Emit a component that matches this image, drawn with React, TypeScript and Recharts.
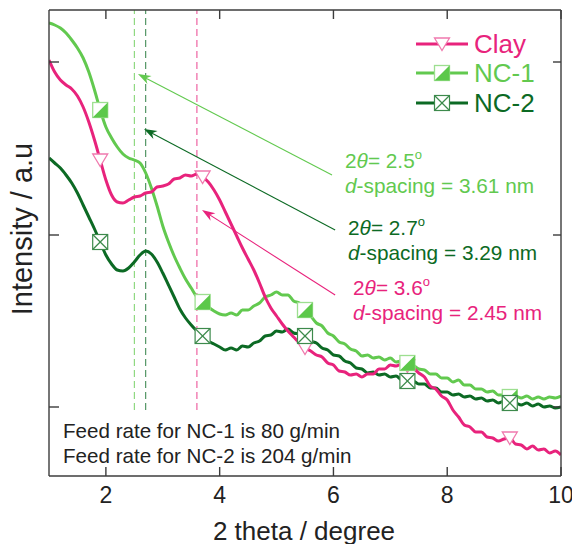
import React from 'react';
import { ComposedChart, Line, XAxis, YAxis, ReferenceLine } from 'recharts';

// 2θ grid (degree)
const twoTheta = [
  1.0, 1.1, 1.2, 1.3, 1.4, 1.5, 1.6, 1.7, 1.8, 1.9,
  2.0, 2.1, 2.2, 2.3, 2.4, 2.5, 2.6, 2.7, 2.8, 2.9,
  3.0, 3.1, 3.2, 3.3, 3.4, 3.5, 3.6, 3.7, 3.8, 3.9,
  4.0, 4.1, 4.2, 4.3, 4.4, 4.5, 4.6, 4.7, 4.8, 4.9,
  5.0, 5.1, 5.2, 5.3, 5.4, 5.5, 5.6, 5.7, 5.8, 5.9,
  6.0, 6.1, 6.2, 6.3, 6.4, 6.5, 6.6, 6.7, 6.8, 6.9,
  7.0, 7.1, 7.2, 7.3, 7.4, 7.5, 7.6, 7.7, 7.8, 7.9,
  8.0, 8.1, 8.2, 8.3, 8.4, 8.5, 8.6, 8.7, 8.8, 8.9,
  9.0, 9.1, 9.2, 9.3, 9.4, 9.5, 9.6, 9.7, 9.8, 9.9,
  10.0,
];

// Intensity (a.u.)
const clay = [
  416, 404, 396, 391, 387, 380, 369, 354, 336, 316,
  296, 281, 274, 273, 276, 279, 280, 283, 284, 289,
  290, 292, 297, 298, 301, 300, 302, 299, 294, 286,
  276, 264, 252, 240, 228, 217, 206, 193, 179, 168,
  160, 152, 145, 139, 133, 128, 125, 121, 119, 113,
  111, 105, 104, 101, 102, 99, 102, 102, 107, 107,
  111, 110, 112, 110, 108, 103, 99, 90, 87, 80,
  76, 66, 59, 51, 49, 44, 44, 39, 38, 35,
  37, 38, 32, 31, 27, 30, 26, 27, 23, 25,
  21,
];

const nc1 = [
  453, 451, 448, 443, 436, 428, 418, 404, 386, 366,
  349, 338, 329, 322, 318, 316, 313, 303, 288, 270,
  250, 234, 220, 208, 197, 188, 179, 174, 169, 165,
  162, 161, 163, 161, 166, 166, 170, 173, 179, 181,
  184, 181, 181, 175, 173, 166, 160, 153, 150, 143,
  140, 134, 132, 127, 125, 120, 121, 118, 119, 116,
  118, 114, 115, 113, 111, 107, 106, 102, 102, 98,
  98, 94, 96, 91, 91, 87, 87, 84, 85, 81,
  81, 79, 80, 78, 80, 77, 79, 77, 79, 78,
  80,
];

const nc2 = [
  318, 313, 308, 301, 293, 283, 271, 259, 247, 234,
  221, 212, 206, 205, 208, 214, 221, 225, 222, 214,
  203, 191, 179, 167, 158, 151, 145, 140, 135, 132,
  129, 126, 128, 126, 130, 129, 133, 135, 140, 141,
  145, 144, 147, 143, 142, 140, 135, 133, 128, 126,
  121, 120, 115, 113, 108, 107, 103, 104, 101, 102,
  99, 100, 96, 95, 95, 92, 92, 88, 88, 84,
  84, 81, 82, 79, 80, 77, 78, 75, 76, 73,
  75, 73, 73, 71, 73, 70, 72, 69, 70, 68,
  69,
];

const markerTheta = [1.9, 3.7, 5.5, 7.3, 9.1];
const xTicks = [2, 4, 6, 8, 10];
const yTicks = [69, 241, 414];
const xDomain = [1, 10];
const yDomain = [0, 466];

// peak positions (2θ) for NC-1, NC-2, Clay
const peakTheta = [2.5, 2.7, 3.6];
const peakLineRange = [66, 466];

// annotation arrows: [tail 2θ, tail I, tip 2θ, tip I]
const arrowNC1 = [5.975, 301, 2.564, 402];
const arrowNC2 = [6.03, 246, 2.67, 347];
const arrowClay = [6.03, 181, 3.69, 266];

const data = twoTheta.map((x, i) => ({ x, clay: clay[i], nc1: nc1[i], nc2: nc2[i] }));

// layout
const W = 572;
const H = 544;
const AXIS_B = 68;
const AXIS_T = 10;
const AXIS_L = 49;
const AXIS_R = 11;
const PLOT_H = H - AXIS_B - AXIS_T;
const PLOT_W = W - AXIS_L - AXIS_R;

const PINK = '#e8237c';
const LGREEN = '#62c94f';
const DGREEN = '#0c6a24';
const AXIS = '#3c3c3c';
const FONT = 'Liberation Sans, Arial, Helvetica, sans-serif';

const TriDown = ({ cx, cy }: { cx: number; cy: number }) => (
  <polygon
    points={`${cx - 7.5},${cy - 6} ${cx + 7.5},${cy - 6} ${cx},${cy + 6.5}`}
    fill="#fff"
    stroke="#f07aae"
    strokeWidth={1.3}
  />
);

const HalfSquare = ({ cx, cy }: { cx: number; cy: number }) => (
  <g>
    <rect x={cx - 7.5} y={cy - 7.5} width={15} height={15} fill="#fff" stroke="#9ddf90" strokeWidth={1.3} />
    <polygon points={`${cx + 7.5},${cy - 7.5} ${cx + 7.5},${cy + 7.5} ${cx - 7.5},${cy + 7.5}`} fill="#5cc84a" />
  </g>
);

const CrossSquare = ({ cx, cy }: { cx: number; cy: number }) => (
  <g stroke="#3d8a4c" strokeWidth={1.2} fill="none">
    <rect x={cx - 7.5} y={cy - 7.5} width={15} height={15} fill="#fff" />
    <line x1={cx - 7.5} y1={cy - 7.5} x2={cx + 7.5} y2={cy + 7.5} />
    <line x1={cx + 7.5} y1={cy - 7.5} x2={cx - 7.5} y2={cy + 7.5} />
  </g>
);

const isMarker = (x: number) => markerTheta.some((m) => Math.abs(m - x) < 1e-6);

const makeDot = (Shape: any) => (props: any) => {
  const { cx, cy, payload, index } = props;
  if (cx == null || cy == null || !payload || !isMarker(payload.x)) return <g key={`e${index}`} />;
  return <Shape key={`m${index}`} cx={cx} cy={cy} />;
};

const makeArrow = (color: string) => (p: any) => {
  const { x1, y1, x2, y2 } = p;
  if ([x1, y1, x2, y2].some((v) => v == null || isNaN(v))) return <g />;
  const dx = x2 - x1;
  const dy = y2 - y1;
  const len = Math.sqrt(dx * dx + dy * dy) || 1;
  const ux = dx / len;
  const uy = dy / len;
  const hl = 13;
  const hw = 4.5;
  const bx = x2 - ux * hl;
  const by = y2 - uy * hl;
  const nx = -uy;
  const ny = ux;
  const notchX = x2 - ux * hl * 0.7;
  const notchY = y2 - uy * hl * 0.7;
  return (
    <g>
      <line x1={x1} y1={y1} x2={notchX} y2={notchY} stroke={color} strokeWidth={1.1} />
      <polygon
        points={`${x2},${y2} ${bx + nx * hw},${by + ny * hw} ${notchX},${notchY} ${bx - nx * hw},${by - ny * hw}`}
        fill={color}
      />
    </g>
  );
};

// bottom tick: inward tick + label, plus the mirrored inward tick on the top edge
const BottomTick = (p: any) => (
  <g>
    <line x1={p.x} x2={p.x} y1={p.y} y2={p.y - 9} stroke={AXIS} strokeWidth={1.4} />
    <line x1={p.x} x2={p.x} y1={p.y - PLOT_H} y2={p.y - PLOT_H + 9} stroke={AXIS} strokeWidth={1.4} />
    <text x={p.x} y={p.y + 27} textAnchor="middle" fontSize={23} fill="#222" fontFamily={FONT}>
      {p.payload.value}
    </text>
  </g>
);
// left tick: inward tick, plus the mirrored inward tick on the right edge
const LeftTick = (p: any) => (
  <g>
    <line x1={p.x} x2={p.x + 10} y1={p.y} y2={p.y} stroke={AXIS} strokeWidth={1.4} />
    <line x1={p.x + PLOT_W} x2={p.x + PLOT_W - 8} y1={p.y} y2={p.y} stroke={AXIS} strokeWidth={1.4} />
  </g>
);

const Deg = () => (
  <tspan dy={-9} fontSize={13}>o</tspan>
);

export default function App() {
  const peakColors = [LGREEN, DGREEN, PINK];
  const arrows: [number[], string][] = [
    [arrowNC1, LGREEN],
    [arrowNC2, DGREEN],
    [arrowClay, PINK],
  ];
  return (
    <div style={{ position: 'absolute', left: 0, top: 0, width: W, height: H, background: '#fff' }}>
      <ComposedChart width={W} height={H} data={data} margin={{ top: 0, right: 0, bottom: 0, left: 0 }}>
        <XAxis
          xAxisId="b"
          dataKey="x"
          type="number"
          domain={xDomain}
          ticks={xTicks}
          interval={0}
          height={AXIS_B}
          tickSize={0}
          tickMargin={0}
          tickLine={false}
          tick={BottomTick}
          axisLine={{ stroke: AXIS, strokeWidth: 1.4 }}
          allowDataOverflow
        />
        <XAxis
          xAxisId="t"
          dataKey="x"
          orientation="top"
          type="number"
          domain={xDomain}
          height={AXIS_T}
          tick={false}
          tickLine={false}
          axisLine={{ stroke: AXIS, strokeWidth: 1.4 }}
          allowDataOverflow
        />
        <YAxis
          yAxisId="l"
          type="number"
          domain={yDomain}
          ticks={yTicks}
          interval={0}
          width={AXIS_L}
          tickSize={0}
          tickMargin={0}
          tickLine={false}
          tick={LeftTick}
          axisLine={{ stroke: AXIS, strokeWidth: 1.4 }}
          allowDataOverflow
        />
        <YAxis
          yAxisId="r"
          orientation="right"
          type="number"
          domain={yDomain}
          width={AXIS_R}
          tick={false}
          tickLine={false}
          axisLine={{ stroke: AXIS, strokeWidth: 1.4 }}
          allowDataOverflow
        />

        {/* invisible series binding the mirrored top/right axes */}
        <Line xAxisId="t" yAxisId="r" dataKey="nc1" stroke="none" dot={false} activeDot={false} isAnimationActive={false} />

        {peakTheta.map((t, i) => (
          <ReferenceLine
            key={`pk${i}`}
            xAxisId="b"
            yAxisId="l"
            segment={[
              { x: t, y: peakLineRange[0] },
              { x: t, y: peakLineRange[1] },
            ]}
            stroke={peakColors[i]}
            strokeOpacity={0.85}
            strokeWidth={1}
            strokeDasharray="7 4"
          />
        ))}

        <Line xAxisId="b" yAxisId="l" type="monotone" dataKey="nc2" stroke={DGREEN} strokeWidth={3} dot={false} activeDot={false} isAnimationActive={false} />
        <Line xAxisId="b" yAxisId="l" type="monotone" dataKey="nc1" stroke={LGREEN} strokeWidth={3} dot={false} activeDot={false} isAnimationActive={false} />
        <Line xAxisId="b" yAxisId="l" type="monotone" dataKey="clay" stroke={PINK} strokeWidth={3} dot={false} activeDot={false} isAnimationActive={false} />

        <Line xAxisId="b" yAxisId="l" dataKey="clay" stroke="none" dot={makeDot(TriDown)} activeDot={false} isAnimationActive={false} />
        <Line xAxisId="b" yAxisId="l" dataKey="nc1" stroke="none" dot={makeDot(HalfSquare)} activeDot={false} isAnimationActive={false} />
        <Line xAxisId="b" yAxisId="l" dataKey="nc2" stroke="none" dot={makeDot(CrossSquare)} activeDot={false} isAnimationActive={false} />

        {arrows.map(([a, c], i) => (
          <ReferenceLine
            key={`ar${i}`}
            xAxisId="b"
            yAxisId="l"
            segment={[
              { x: a[0], y: a[1] },
              { x: a[2], y: a[3] },
            ]}
            stroke={c}
            shape={makeArrow(c)}
            ifOverflow="visible"
          />
        ))}
      </ComposedChart>

      <svg
        width={W}
        height={H}
        style={{ position: 'absolute', left: 0, top: 0, pointerEvents: 'none' }}
        fontFamily={FONT}
      >
        {/* legend */}
        <line x1={416} x2={468} y1={44} y2={44} stroke={PINK} strokeWidth={3} />
        <TriDown cx={442} cy={44} />
        <text x={474} y={53} fontSize={26} fill={PINK}>Clay</text>
        <line x1={416} x2={468} y1={73} y2={73} stroke={LGREEN} strokeWidth={3} />
        <HalfSquare cx={442} cy={73} />
        <text x={474} y={82} fontSize={26} fill={LGREEN}>NC-1</text>
        <line x1={416} x2={468} y1={103} y2={103} stroke={DGREEN} strokeWidth={3} />
        <CrossSquare cx={442} cy={103} />
        <text x={474} y={112} fontSize={26} fill={DGREEN}>NC-2</text>

        {/* annotations */}
        <text x={345} y={168} fontSize={20.8} fill={LGREEN}>
          2<tspan fontStyle="italic">θ</tspan>= 2.5<Deg />
        </text>
        <text x={345} y={193} fontSize={20.8} fill={LGREEN}>
          <tspan fontStyle="italic">d</tspan>-spacing = 3.61 nm
        </text>
        <text x={348} y={235} fontSize={20.8} fill={DGREEN}>
          2<tspan fontStyle="italic">θ</tspan>= 2.7<Deg />
        </text>
        <text x={348} y={260} fontSize={20.8} fill={DGREEN}>
          <tspan fontStyle="italic">d</tspan>-spacing = 3.29 nm
        </text>
        <text x={353} y={295} fontSize={20.8} fill={PINK}>
          2<tspan fontStyle="italic">θ</tspan>= 3.6<Deg />
        </text>
        <text x={353} y={320} fontSize={20.8} fill={PINK}>
          <tspan fontStyle="italic">d</tspan>-spacing = 2.45 nm
        </text>

        <text x={63} y={438} fontSize={20.6} fill="#222">Feed rate for NC-1 is 80 g/min</text>
        <text x={63} y={463} fontSize={20.6} fill="#222">Feed rate for NC-2 is 204 g/min</text>

        {/* axis titles */}
        <text x={304} y={540} fontSize={26} fill="#222" textAnchor="middle">2 theta / degree</text>
        <text x={32} y={229} fontSize={29} fill="#222" textAnchor="middle" transform="rotate(-90 32 229)">
          Intensity / a.u
        </text>
      </svg>
    </div>
  );
}
